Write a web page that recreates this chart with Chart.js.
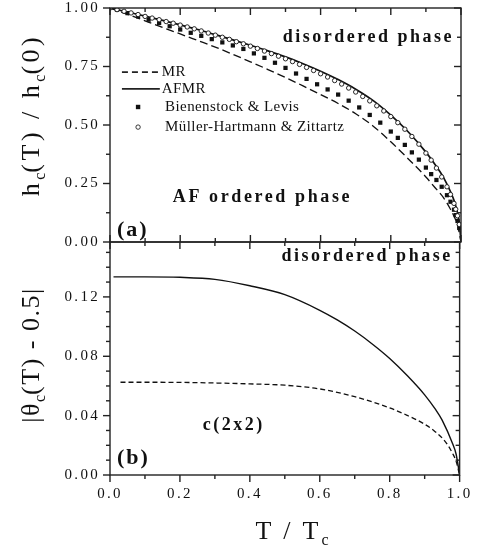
<!DOCTYPE html>
<html>
<head>
<meta charset="utf-8">
<script src="https://cdn.jsdelivr.net/npm/chart.js@4.4.0/dist/chart.umd.min.js"></script>
<style>
html, body { margin: 0; padding: 0; background: #fff; }
#wrap { position: relative; width: 481px; height: 549px; overflow: hidden; font-family: "Liberation Serif", serif; color: #111; }
canvas { position: absolute; left: 0; top: 0; }
.ttl { position: absolute; font-size: 26px; white-space: nowrap; letter-spacing: 3px; line-height: 1; }
.ttl sub { font-size: 16px; letter-spacing: 0; }
.rot { transform: translate(-50%, -50%) rotate(-90deg); }
</style>
</head>
<body>
<div id="wrap">
  <canvas id="panelA" width="481" height="549"></canvas>
  <canvas id="panelB" width="481" height="549"></canvas>
  <div class="ttl rot" style="left:33px; top:115px; letter-spacing:3.5px;">h<sub>c</sub>(T) / h<sub>c</sub>(0)</div>
  <div class="ttl rot" style="left:33px; top:355px; letter-spacing:1.5px;">|θ<sub>c</sub>(T) - 0.5|</div>
  <div class="ttl" style="left:292px; top:518px; transform:translateX(-50%);">T / T<sub>c</sub></div>
</div>
<script>
// panel (a): critical field
var t_afmr = [0, 0.05, 0.1, 0.15, 0.2, 0.25, 0.3, 0.35, 0.4, 0.45, 0.5, 0.55, 0.6, 0.65, 0.7, 0.75, 0.8, 0.85, 0.9, 0.925, 0.95, 0.97, 0.98, 0.99, 0.995, 1.0];
var h_afmr = [1.0, 0.983, 0.965, 0.947, 0.928, 0.908, 0.886, 0.864, 0.841, 0.817, 0.791, 0.762, 0.730, 0.694, 0.653, 0.604, 0.542, 0.470, 0.384, 0.333, 0.276, 0.215, 0.178, 0.125, 0.085, 0.0];

var t_mr = [0, 0.05, 0.1, 0.15, 0.2, 0.25, 0.3, 0.35, 0.4, 0.45, 0.5, 0.55, 0.6, 0.65, 0.7, 0.75, 0.8, 0.85, 0.9, 0.925, 0.95, 0.97, 0.98, 0.99, 1.0];
var h_mr = [1.0, 0.973, 0.945, 0.917, 0.889, 0.861, 0.833, 0.802, 0.770, 0.737, 0.703, 0.667, 0.630, 0.592, 0.548, 0.495, 0.428, 0.355, 0.278, 0.234, 0.190, 0.140, 0.110, 0.072, 0.0];

var t_bl = [0.02, 0.05, 0.08, 0.11, 0.14, 0.17, 0.20, 0.23, 0.26, 0.29, 0.32, 0.35, 0.38, 0.41, 0.44, 0.47, 0.50, 0.53, 0.56, 0.59, 0.62, 0.65, 0.68, 0.71, 0.74, 0.77, 0.80, 0.82, 0.84, 0.86, 0.88, 0.90, 0.915, 0.93, 0.945, 0.96, 0.97, 0.98, 0.985, 0.99, 0.995];
var h_bl = [0.992, 0.978, 0.964, 0.950, 0.936, 0.922, 0.908, 0.894, 0.881, 0.867, 0.853, 0.840, 0.825, 0.806, 0.787, 0.766, 0.744, 0.720, 0.697, 0.674, 0.652, 0.630, 0.604, 0.575, 0.543, 0.510, 0.472, 0.445, 0.415, 0.383, 0.352, 0.318, 0.290, 0.265, 0.236, 0.200, 0.172, 0.138, 0.115, 0.090, 0.060];

var t_mhz = [0, 0.02, 0.04, 0.06, 0.08, 0.10, 0.12, 0.14, 0.16, 0.18, 0.20, 0.22, 0.24, 0.26, 0.28, 0.30, 0.32, 0.34, 0.36, 0.38, 0.40, 0.42, 0.44, 0.46, 0.48, 0.50, 0.52, 0.54, 0.56, 0.58, 0.60, 0.62, 0.64, 0.66, 0.68, 0.70, 0.72, 0.74, 0.76, 0.78, 0.80, 0.82, 0.84, 0.86, 0.88, 0.90, 0.915, 0.93, 0.945, 0.96, 0.97, 0.98, 0.985, 0.99, 0.995];
var h_mhz = [1.0, 0.993, 0.986, 0.979, 0.972, 0.964, 0.957, 0.950, 0.942, 0.935, 0.927, 0.919, 0.911, 0.902, 0.893, 0.884, 0.875, 0.866, 0.856, 0.847, 0.837, 0.827, 0.816, 0.805, 0.794, 0.783, 0.771, 0.759, 0.746, 0.733, 0.719, 0.705, 0.690, 0.675, 0.658, 0.641, 0.622, 0.603, 0.582, 0.560, 0.536, 0.510, 0.482, 0.451, 0.418, 0.380, 0.350, 0.316, 0.278, 0.236, 0.203, 0.165, 0.140, 0.112, 0.075];

// panel (b): order parameter
var t_th_afmr = [0.01, 0.1, 0.2, 0.3, 0.4, 0.5, 0.6, 0.65, 0.7, 0.75, 0.8, 0.85, 0.9, 0.93, 0.95, 0.98, 0.99, 1.0];
var th_afmr = [0.1335, 0.1335, 0.1332, 0.1318, 0.1275, 0.1215, 0.1110, 0.1045, 0.0970, 0.0883, 0.0785, 0.0670, 0.0540, 0.0445, 0.0370, 0.0210, 0.0140, 0.0];

var t_th_mr = [0.03, 0.1, 0.2, 0.3, 0.4, 0.5, 0.6, 0.7, 0.8, 0.85, 0.9, 0.93, 0.96, 0.98, 0.99, 1.0];
var th_mr = [0.0625, 0.0625, 0.0624, 0.0620, 0.0614, 0.0605, 0.0580, 0.0528, 0.0452, 0.0402, 0.0342, 0.0292, 0.0222, 0.0145, 0.0092, 0.0];

var x_ticks = [0, 0.2, 0.4, 0.6, 0.8, 1.0];
var x_minor = [0.1, 0.3, 0.5, 0.7, 0.9];
var ya_ticks = [0, 0.25, 0.5, 0.75, 1.0];
var ya_minor = [0.125, 0.375, 0.625, 0.875];
var yb_ticks = [0, 0.04, 0.08, 0.12];
var yb_minor = [0.01, 0.02, 0.03, 0.05, 0.06, 0.07, 0.09, 0.10, 0.11, 0.13, 0.14, 0.15];

function pts(xs, ys) {
    return xs.map(function (x, i) { return { x: x, y: ys[i] }; });
}

var SERIF = '"Liberation Serif", serif';

// frame, inward/outward ticks, in-plot labels
var framePlugin = {
    id: 'frame',
    beforeDraw: function (chart) {
        // spaced-out tick labels like the original
        chart.ctx.letterSpacing = '2.3px';
    },
    afterDatasetsDraw: function (chart, args, opts) {
        var ctx = chart.ctx, a = chart.chartArea;
        var xs = chart.scales.x, ys = chart.scales.y;
        ctx.save();
        ctx.strokeStyle = '#222';
        ctx.lineWidth = 1.4;
        ctx.setLineDash([]);
        ctx.strokeRect(a.left, a.top, a.right - a.left, a.bottom - a.top);

        function xTicks(vals, len, y, dir) {
            vals.forEach(function (v) {
                var px = xs.getPixelForValue(v);
                ctx.beginPath(); ctx.moveTo(px, y); ctx.lineTo(px, y + dir * len); ctx.stroke();
            });
        }
        function yTicks(vals, len, x, dir) {
            vals.forEach(function (v) {
                var py = ys.getPixelForValue(v);
                ctx.beginPath(); ctx.moveTo(x, py); ctx.lineTo(x + dir * len, py); ctx.stroke();
            });
        }
        var s = opts.sides;
        xTicks(opts.xMajor, 7, a.top, 1);
        xTicks(opts.xMinor, 4, a.top, 1);
        xTicks(opts.xMajor, 7, a.bottom, s.bottom === 'out' ? 1 : -1);
        xTicks(opts.xMinor, 4, a.bottom, s.bottom === 'out' ? 1 : -1);
        yTicks(opts.yMajor, 7, a.left, -1);
        yTicks(opts.yMinor, 4, a.left, -1);
        yTicks(opts.yMajor, 7, a.right, -1);
        yTicks(opts.yMinor, 4, a.right, -1);

        ctx.fillStyle = '#111';
        ctx.textBaseline = 'middle';
        (opts.labels || []).forEach(function (l) {
            ctx.font = l.font;
            ctx.letterSpacing = (l.spacing || 0) + 'px';
            ctx.textAlign = l.align || 'left';
            ctx.fillText(l.text, xs.getPixelForValue(l.x), ys.getPixelForValue(l.y));
        });

        if (opts.legend) {
            var lx0 = xs.getPixelForValue(0.034), lx1 = xs.getPixelForValue(0.142);
            var tx = xs.getPixelForValue(0.157), mx = xs.getPixelForValue(0.08);
            ctx.textAlign = 'left';
            ctx.font = '15px ' + SERIF;
            ctx.letterSpacing = '0.4px';
            opts.legend.forEach(function (it) {
                var py = ys.getPixelForValue(it.y);
                if (it.kind === 'dash' || it.kind === 'solid') {
                    ctx.lineWidth = 1.8;
                    ctx.setLineDash(it.kind === 'dash' ? [6, 4] : []);
                    ctx.beginPath(); ctx.moveTo(lx0, py); ctx.lineTo(lx1, py); ctx.stroke();
                    ctx.setLineDash([]);
                    ctx.fillText(it.text, lx1 + 2, py);
                } else if (it.kind === 'square') {
                    ctx.fillRect(mx - 2.2, py - 2.2, 4.4, 4.4);
                    ctx.fillText(it.text, tx, py);
                } else {
                    ctx.lineWidth = 0.9;
                    ctx.beginPath(); ctx.arc(mx, py, 2.2, 0, Math.PI * 2); ctx.stroke();
                    ctx.fillText(it.text, tx, py);
                }
            });
        }
        ctx.restore();
    }
};

function fixedTicks(list) {
    return function (s) { s.ticks = list.map(function (v) { return { value: v }; }); };
}
function yFit(s) {
    s.width = 110;
    s.paddingTop = 0;
    s.paddingBottom = 0;
}

var tickFont = { family: SERIF, size: 15, lineHeight: 1 };

var chartA = new Chart(document.getElementById('panelA'), {
    type: 'scatter',
    data: {
        datasets: [
            {
                label: 'Müller-Hartmann & Zittartz',
                data: pts(t_mhz, h_mhz),
                pointStyle: 'circle', pointRadius: 2.2,
                backgroundColor: '#fff', borderColor: '#111', borderWidth: 0.9,
                order: 0
            },
            {
                label: 'Bienenstock & Levis',
                data: pts(t_bl, h_bl),
                pointStyle: 'rect', pointRadius: 3,
                backgroundColor: '#111', borderColor: '#111', borderWidth: 0,
                order: 1
            },
            {
                label: 'AFMR',
                data: pts(t_afmr, h_afmr),
                showLine: true, pointRadius: 0, borderColor: '#111', borderWidth: 1.7,
                cubicInterpolationMode: 'monotone',
                order: 2
            },
            {
                label: 'MR',
                data: pts(t_mr, h_mr),
                showLine: true, pointRadius: 0, borderColor: '#111', borderWidth: 1.3,
                borderDash: [8, 4],
                cubicInterpolationMode: 'monotone',
                order: 3
            }
        ]
    },
    options: {
        responsive: false,
        animation: false,
        layout: { padding: { left: 0, right: 20, top: 8, bottom: 307 } },
        plugins: {
            legend: { display: false },
            tooltip: { enabled: false },
            frame: {
                sides: { bottom: 'in' },
                xMajor: x_ticks, xMinor: x_minor, yMajor: ya_ticks, yMinor: ya_minor,
                labels: [
                    { text: 'disordered phase', x: 0.98, y: 0.876, align: 'right', font: 'bold 18px ' + SERIF, spacing: 2.5 },
                    { text: 'AF ordered phase', x: 0.179, y: 0.192, font: 'bold 18px ' + SERIF, spacing: 2.6 },
                    { text: '(a)', x: 0.02, y: 0.051, font: 'bold 22px ' + SERIF, spacing: 2 }
                ],
                legend: [
                    { kind: 'dash', text: 'MR', y: 0.726 },
                    { kind: 'solid', text: 'AFMR', y: 0.654 },
                    { kind: 'square', text: 'Bienenstock & Levis', y: 0.577 },
                    { kind: 'circle', text: 'Müller-Hartmann & Zittartz', y: 0.491 }
                ]
            }
        },
        scales: {
            x: { type: 'linear', min: 0, max: 1, display: false },
            y: {
                type: 'linear', min: 0, max: 1,
                afterBuildTicks: fixedTicks(ya_ticks),
                afterFit: yFit,
                grid: { display: false, drawTicks: false },
                border: { display: false },
                ticks: { color: '#111', font: tickFont, padding: 10, callback: function (v) { return v.toFixed(2); } }
            }
        }
    },
    plugins: [framePlugin]
});

var chartB = new Chart(document.getElementById('panelB'), {
    type: 'scatter',
    data: {
        datasets: [
            {
                label: 'AFMR',
                data: pts(t_th_afmr, th_afmr),
                showLine: true, pointRadius: 0, borderColor: '#111', borderWidth: 1.4,
                cubicInterpolationMode: 'monotone'
            },
            {
                label: 'MR',
                data: pts(t_th_mr, th_mr),
                showLine: true, pointRadius: 0, borderColor: '#111', borderWidth: 1.3,
                borderDash: [5, 3],
                cubicInterpolationMode: 'monotone'
            }
        ]
    },
    options: {
        responsive: false,
        animation: false,
        layout: { padding: { left: 0, right: 20, top: 242, bottom: 0 } },
        plugins: {
            legend: { display: false },
            tooltip: { enabled: false },
            frame: {
                sides: { bottom: 'out' },
                xMajor: x_ticks, xMinor: x_minor, yMajor: yb_ticks, yMinor: yb_minor,
                labels: [
                    { text: 'disordered phase', x: 0.98, y: 0.147, align: 'right', font: 'bold 18px ' + SERIF, spacing: 2.5 },
                    { text: 'c(2x2)', x: 0.265, y: 0.0337, font: 'bold 18px ' + SERIF, spacing: 2.5 },
                    { text: '(b)', x: 0.02, y: 0.0115, font: 'bold 22px ' + SERIF, spacing: 2 }
                ]
            }
        },
        scales: {
            x: {
                type: 'linear', min: 0, max: 1,
                afterBuildTicks: fixedTicks(x_ticks),
                afterFit: function (s) { s.height = 74; },
                grid: { display: false, drawTicks: false },
                border: { display: false },
                ticks: { color: '#111', font: tickFont, padding: 12, maxRotation: 0, callback: function (v) { return v.toFixed(1); } }
            },
            y: {
                type: 'linear', min: 0, max: 0.157,
                afterBuildTicks: fixedTicks(yb_ticks),
                afterFit: yFit,
                grid: { display: false, drawTicks: false },
                border: { display: false },
                ticks: { color: '#111', font: tickFont, padding: 10, callback: function (v) { return v.toFixed(2); } }
            }
        }
    },
    plugins: [framePlugin]
});
</script>
</body>
</html>
